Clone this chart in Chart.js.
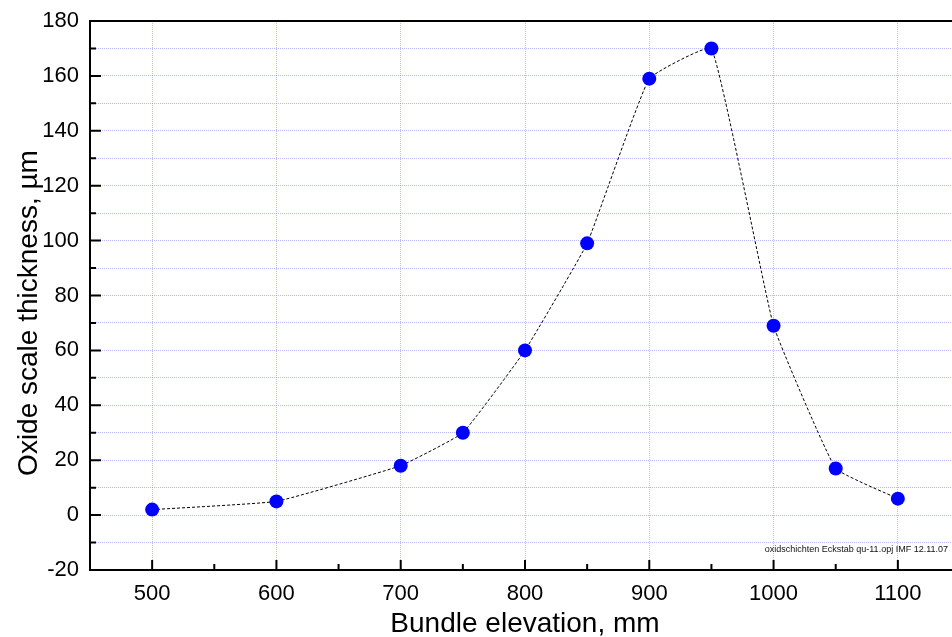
<!DOCTYPE html>
<html>
<head>
<meta charset="utf-8">
<script src="https://cdn.jsdelivr.net/npm/chart.js@4.4.1/dist/chart.umd.min.js"></script>
<style>
  html, body { margin: 0; padding: 0; background: #fff; overflow: hidden; }
  #wrap { width: 952px; height: 637px; overflow: hidden; }
  canvas { display: block; }
</style>
</head>
<body>
<div id="wrap"><canvas id="c" width="980" height="637" style="width:980px;height:637px"></canvas></div>
<script>
// ---- data ----
const elevations = [500, 600, 700, 750, 800, 850, 900, 950, 1000, 1050, 1100];
const thickness  = [2, 5, 18, 30, 60, 99, 159, 170, 69, 17, 6];
const xTitle = 'Bundle elevation, mm';
const yTitle = 'Oxide scale thickness, µm';
const footnote = 'oxidschichten Eckstab qu-11.opj IMF 12.11.07';
const xRange = [450, 1150];
const yRange = [-20, 180];

const FONT = "'Liberation Sans', Arial, sans-serif";
const gridColor = 'rgba(120,120,255,0.5)';

const axesPlugin = {
  id: 'originAxes',
  afterDraw(chart) {
    const ctx = chart.ctx;
    const a = chart.chartArea;
    const xs = chart.scales.x, ys = chart.scales.y;
    ctx.save();
    ctx.strokeStyle = '#000';
    ctx.lineWidth = 2;
    ctx.lineCap = 'butt';
    ctx.beginPath();
    ctx.moveTo(a.left, a.top); ctx.lineTo(a.right, a.top);
    ctx.moveTo(a.left, a.top - 1); ctx.lineTo(a.left, a.bottom + 1);
    ctx.moveTo(a.left - 1, a.bottom); ctx.lineTo(a.right, a.bottom);
    ctx.stroke();
    ctx.beginPath();
    ys.ticks.forEach(t => {
      if (t.value === yRange[0] || t.value === yRange[1]) return;
      const y = ys.getPixelForValue(t.value);
      const len = (t.value % 20 === 0) ? 11 : 6;
      ctx.moveTo(a.left, y); ctx.lineTo(a.left + len, y);
    });
    xs.ticks.forEach(t => {
      if (t.value === xRange[0]) return;
      const x = xs.getPixelForValue(t.value);
      const len = (t.value % 100 === 0) ? 10 : 6;
      ctx.moveTo(x, a.bottom); ctx.lineTo(x, a.bottom - len);
    });
    ctx.stroke();
    // axis titles
    ctx.fillStyle = '#000';
    ctx.font = '28px ' + FONT;
    ctx.textAlign = 'center';
    ctx.textBaseline = 'alphabetic';
    ctx.fillText(xTitle, (a.left + a.right) / 2, 632);
    ctx.save();
    ctx.translate(37, 313);
    ctx.rotate(-Math.PI / 2);
    ctx.fillText(yTitle, 0, 0);
    ctx.restore();
    // footnote
    ctx.fillStyle = '#111';
    ctx.font = '9px ' + FONT;
    ctx.textAlign = 'right';
    ctx.textBaseline = 'middle';
    ctx.fillText(footnote, 948, 550);
    ctx.restore();
  }
};

new Chart(document.getElementById('c'), {
  type: 'line',
  data: {
    datasets: [{
      data: elevations.map((x, i) => ({ x: x, y: thickness[i] })),
      borderColor: '#000',
      borderWidth: 1,
      borderDash: [3, 2],
      tension: 0.1,
      pointRadius: 7,
      pointHoverRadius: 7,
      pointBackgroundColor: '#0000ff',
      pointBorderWidth: 0,
      pointBorderColor: '#0000ff',
      fill: false
    }]
  },
  options: {
    responsive: false,
    animation: false,
    events: [],
    plugins: { legend: { display: false }, tooltip: { enabled: false } },
    layout: { padding: { top: 21, right: 20, left: 0, bottom: 0 } },
    scales: {
      x: {
        type: 'linear',
        min: xRange[0], max: xRange[1],
        afterFit(s) { s.height = 67; s.paddingLeft = 0; s.paddingRight = 0; },
        border: { display: false, dash: [1, 1] },
        grid: {
          drawTicks: false,
          lineWidth: 1,
          color: c => (c.tick && c.tick.value % 100 === 0) ? gridColor : 'rgba(0,0,0,0)'
        },
        ticks: {
          stepSize: 50,
          autoSkip: false,
          maxRotation: 0,
          padding: 11,
          color: '#000',
          font: { family: FONT, size: 22 },
          callback: v => (v % 100 === 0 ? String(v) : '')
        }
      },
      y: {
        type: 'linear',
        min: yRange[0], max: yRange[1],
        afterFit(s) { s.width = 90; s.paddingTop = 0; s.paddingBottom = 0; },
        border: { display: false, dash: [1, 1] },
        grid: {
          drawTicks: false,
          lineWidth: 1,
          color: gridColor
        },
        ticks: {
          stepSize: 10,
          autoSkip: false,
          padding: 11,
          color: '#000',
          font: { family: FONT, size: 22 },
          callback: v => (v % 20 === 0 ? String(v) : '')
        }
      }
    }
  },
  plugins: [axesPlugin]
});
</script>
</body>
</html>
